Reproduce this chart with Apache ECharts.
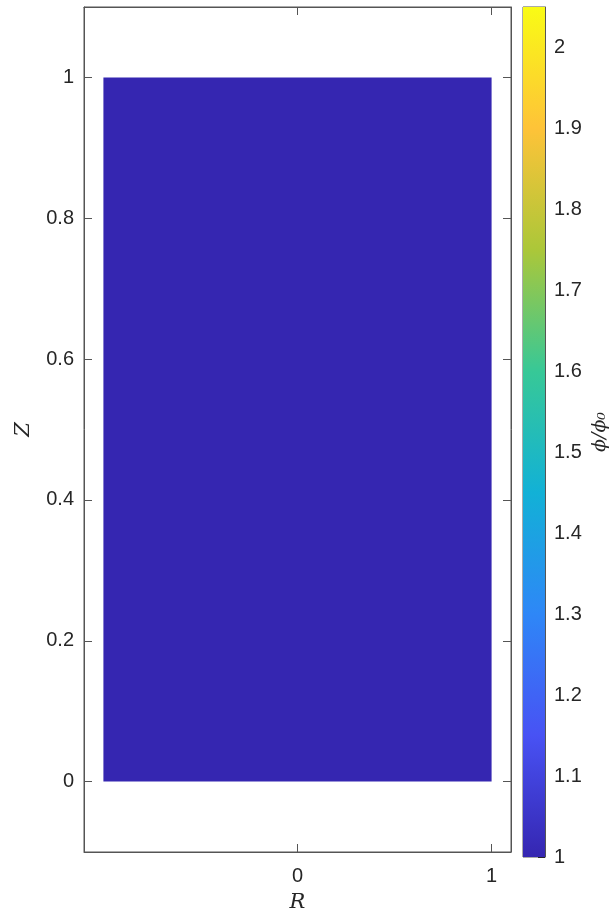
<!DOCTYPE html>
<html>
<head>
<meta charset="utf-8">
<script src="https://cdn.jsdelivr.net/npm/echarts@6/dist/echarts.min.js"></script>
<style>
  html, body { margin: 0; padding: 0; background: #fff; }
  #chart { width: 611px; height: 918px; }
</style>
</head>
<body>
<div id="chart"></div>
<script>
// domain: [rMin, rMax, zMin, zMax, phi/phi0]
const domainCells = [[-1, 1, 0, 1, 1]];
const rTicks = [0, 1];
const zTicks = [0, 0.2, 0.4, 0.6, 0.8, 1];
const cbarRange = [1, 2.05];
const cbarTicks = [1, 1.1, 1.2, 1.3, 1.4, 1.5, 1.6, 1.7, 1.8, 1.9, 2];

// parula-like colormap stops
const parula = [
  [0.000, [53, 38, 177]],
  [0.143, [72, 82, 244]],
  [0.286, [46, 135, 247]],
  [0.429, [18, 177, 214]],
  [0.571, [55, 200, 151]],
  [0.714, [171, 199, 57]],
  [0.857, [254, 195, 56]],
  [1.000, [249, 251, 21]]
];

const colorAt = (t) => {
  t = Math.max(0, Math.min(1, t));
  for (let i = 1; i < parula.length; i++) {
    if (t <= parula[i][0]) {
      const [t0, c0] = parula[i - 1];
      const [t1, c1] = parula[i];
      const f = (t - t0) / (t1 - t0);
      const c = c0.map((v, k) => Math.round(v + (c1[k] - v) * f));
      return `rgb(${c[0]},${c[1]},${c[2]})`;
    }
  }
  return 'rgb(249,251,21)';
};

const chart = echarts.init(document.getElementById('chart'));

const tickFont = { color: '#262626', fontSize: 20, fontFamily: 'Liberation Sans, Arial, sans-serif' };
const nameFont = { color: '#262626', fontSize: 21, fontFamily: 'DejaVu Serif, serif', fontStyle: 'italic' };
const lineStyle = { color: '#555', width: 1 };
const axisLine = { show: true, onZero: false, lineStyle };

const option = {
  animation: false,
  backgroundColor: '#fff',
  grid: [
    { left: 84, top: 7, width: 427, height: 850, show: true, borderColor: '#555', borderWidth: 1 },
    { left: 523, top: 7, width: 24, height: 850, show: true, borderColor: '#555', borderWidth: 1 }
  ],
  xAxis: [
    {
      gridIndex: 0, type: 'value', min: -1.1, max: 1.1, position: 'bottom',
      name: 'R', nameLocation: 'middle', nameGap: 40, nameTextStyle: nameFont,
      axisLine,
      axisTick: { show: true, inside: true, length: 8, lineStyle, customValues: rTicks },
      axisLabel: { ...tickFont, margin: 14, customValues: rTicks },
      splitLine: { show: false }
    },
    {
      gridIndex: 0, type: 'value', min: -1.1, max: 1.1, position: 'top',
      axisLine,
      axisTick: { show: true, inside: true, length: 8, lineStyle, customValues: rTicks },
      axisLabel: { show: false },
      splitLine: { show: false }
    },
    {
      gridIndex: 1, type: 'value', min: 0, max: 1, show: false
    }
  ],
  yAxis: [
    {
      gridIndex: 0, type: 'value', min: -0.1, max: 1.1, position: 'left',
      name: 'Z', nameLocation: 'middle', nameGap: 50, nameRotate: 90, nameTextStyle: nameFont,
      axisLine,
      axisTick: { show: true, inside: true, length: 8, lineStyle, customValues: zTicks },
      axisLabel: { ...tickFont, margin: 10, customValues: zTicks },
      splitLine: { show: false }
    },
    {
      gridIndex: 0, type: 'value', min: -0.1, max: 1.1, position: 'right',
      axisLine,
      axisTick: { show: true, inside: true, length: 8, lineStyle, customValues: zTicks },
      axisLabel: { show: false },
      splitLine: { show: false }
    },
    {
      gridIndex: 1, type: 'value', min: cbarRange[0], max: cbarRange[1], position: 'right',
      name: 'ϕ/ϕ₀', nameLocation: 'middle', nameGap: 46, nameRotate: 90, nameTextStyle: { ...nameFont, fontSize: 19 },
      axisLine,
      axisTick: { show: true, inside: true, length: 7, lineStyle: { color: '#262626', width: 1 }, customValues: cbarTicks },
      axisLabel: { ...tickFont, margin: 9, customValues: cbarTicks },
      splitLine: { show: false }
    }
  ],
  series: [
    {
      type: 'custom',
      xAxisIndex: 0,
      yAxisIndex: 0,
      data: domainCells,
      renderItem: (params, api) => {
        const p0 = api.coord([api.value(0), api.value(3)]);
        const p1 = api.coord([api.value(1), api.value(2)]);
        const t = (api.value(4) - cbarRange[0]) / (cbarRange[1] - cbarRange[0]);
        return {
          type: 'rect',
          shape: { x: p0[0], y: p0[1], width: p1[0] - p0[0], height: p1[1] - p0[1] },
          style: { fill: colorAt(t) }
        };
      }
    },
    {
      type: 'custom',
      xAxisIndex: 2,
      yAxisIndex: 2,
      data: [[0, 1, cbarRange[0], cbarRange[1]]],
      z: 1,
      renderItem: (params, api) => {
        const p0 = api.coord([api.value(0), api.value(3)]);
        const p1 = api.coord([api.value(1), api.value(2)]);
        const stops = parula.map(([t, c]) => ({ offset: 1 - t, color: `rgb(${c[0]},${c[1]},${c[2]})` })).reverse();
        return {
          type: 'rect',
          shape: { x: p0[0], y: p0[1], width: p1[0] - p0[0], height: p1[1] - p0[1] },
          style: { fill: new echarts.graphic.LinearGradient(0, 0, 0, 1, stops) }
        };
      }
    }
  ]
};

chart.setOption(option);
</script>
</body>
</html>
